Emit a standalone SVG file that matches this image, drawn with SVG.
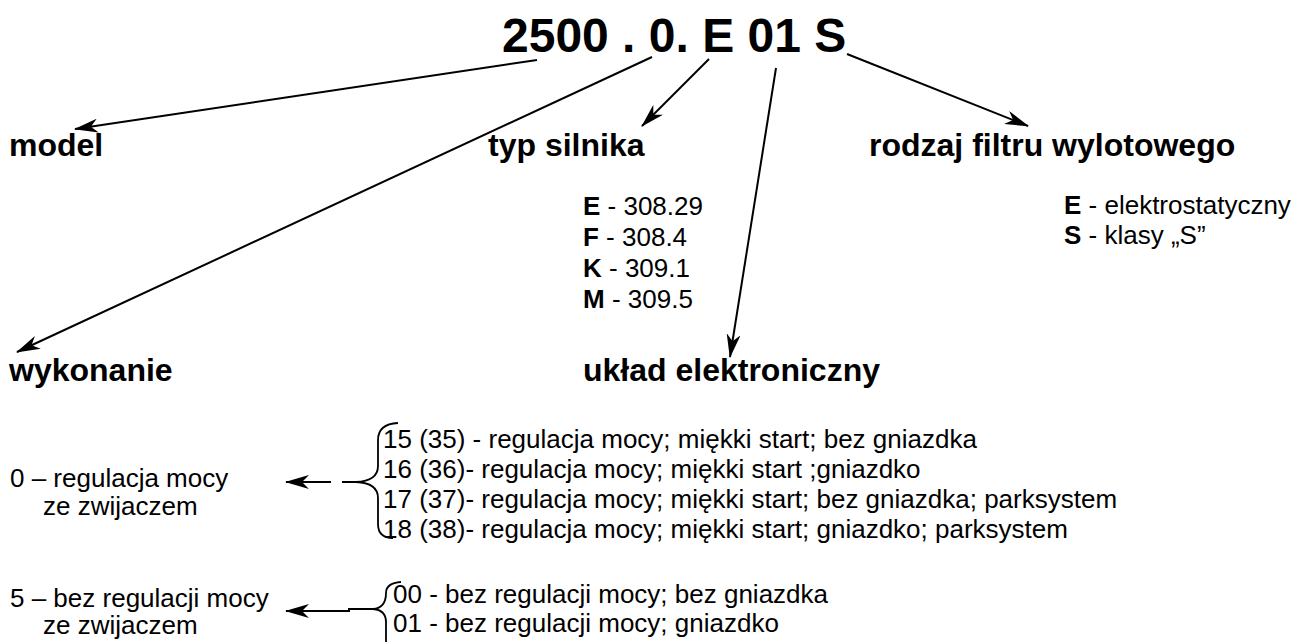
<svg xmlns="http://www.w3.org/2000/svg" width="1297" height="642" viewBox="0 0 1297 642">
<defs>
<style>
text{font-family:"Liberation Sans",Arial,sans-serif;fill:#000}
.title{font-size:48px;font-weight:bold}
.head{font-size:32px;font-weight:bold}
.body{font-size:26px}
.b{font-weight:bold}
.ln{stroke:#000;stroke-width:2;fill:none}
.br{stroke:#000;stroke-width:1.8;fill:none}
</style>
<marker id="ah" viewBox="0 0 24 14" refX="23" refY="7" markerWidth="24" markerHeight="14" markerUnits="userSpaceOnUse" orient="auto">
<path d="M0,0 L24,7 L0,14 L7,7 Z" fill="#000"/>
</marker>
</defs>
<rect width="1297" height="642" fill="#fff"/>
<g id="title"><text class="title" x="502" y="52">2500 . 0. E 01 S</text></g>
<g id="model"><text class="head" x="9" y="156">model</text></g>
<g id="typ-silnika"><text class="head" x="488" y="156">typ silnika</text>
<text class="body" x="583" y="215"><tspan class="b">E</tspan> - 308.29</text>
<text class="body" x="583" y="246"><tspan class="b">F</tspan> - 308.4</text>
<text class="body" x="583" y="277"><tspan class="b">K</tspan> - 309.1</text>
<text class="body" x="583" y="308"><tspan class="b">M</tspan> - 309.5</text></g>
<g id="rodzaj-filtru"><text class="head" x="869" y="156">rodzaj filtru wylotowego</text>
<text class="body" x="1064" y="214"><tspan class="b">E</tspan> - elektrostatyczny</text>
<text class="body" x="1064" y="244"><tspan class="b">S</tspan> - klasy „S”</text></g>
<g id="wykonanie"><text class="head" x="9" y="381">wykonanie</text>
<text class="body" x="10" y="487">0 – regulacja mocy</text>
<text class="body" x="43" y="515">ze zwijaczem</text>
<text class="body" x="10" y="607">5 – bez regulacji mocy</text>
<text class="body" x="43" y="634">ze zwijaczem</text></g>
<g id="uklad"><text class="head" x="583" y="381">układ elektroniczny</text>
<text class="body" x="383" y="448">15 (35) - regulacja mocy; miękki start; bez gniazdka</text>
<text class="body" x="383" y="478">16 (36)- regulacja mocy; miękki start ;gniazdko</text>
<text class="body" x="383" y="508">17 (37)- regulacja mocy; miękki start; bez gniazdka; parksystem</text>
<text class="body" x="383" y="538">18 (38)- regulacja mocy; miękki start; gniazdko; parksystem</text>
<text class="body" x="393" y="603">00 - bez regulacji mocy; bez gniazdka</text>
<text class="body" x="393" y="632">01 - bez regulacji mocy; gniazdko</text></g>
<g id="connectors">
<line class="ln" x1="537" y1="60" x2="75" y2="129" marker-end="url(#ah)"/>
<line class="ln" x1="652" y1="57" x2="17" y2="352" marker-end="url(#ah)"/>
<line class="ln" x1="709" y1="59" x2="642" y2="126" marker-end="url(#ah)"/>
<line class="ln" x1="776" y1="68" x2="730" y2="357" marker-end="url(#ah)"/>
<line class="ln" x1="847" y1="54" x2="1028" y2="126" marker-end="url(#ah)"/>
<line class="ln" x1="331" y1="482" x2="286" y2="482" marker-end="url(#ah)"/>
<line class="ln" x1="342" y1="482" x2="356" y2="482"/>
<path class="br" d="M398,423 Q378,424 378,440 L378,466 Q378,481 356,482 Q378,483 378,498 L378,524 Q378,538 393,538"/>
<line class="ln" x1="350" y1="611" x2="286" y2="611" marker-end="url(#ah)"/>
<line class="ln" x1="348" y1="609" x2="373" y2="609"/>
<path class="br" d="M401,582 Q386,583 386,593 Q386,608 373,609 Q386,610 386,622 L386,642"/>
</g>
</svg>
